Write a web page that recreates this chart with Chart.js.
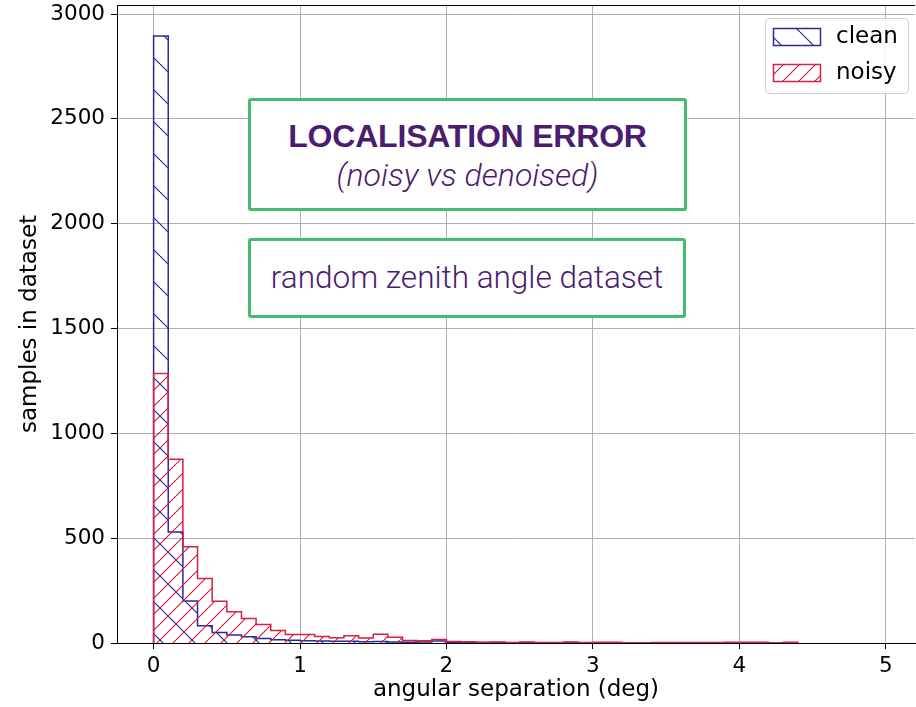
<!DOCTYPE html>
<html>
<head>
<meta charset="utf-8">
<script src="https://cdn.jsdelivr.net/npm/chart.js@4/dist/chart.umd.min.js"></script>
<style>
  body { margin: 0; background: #fff; }
  #wrap { position: relative; width: 916px; height: 707px; }
  .note {
    position: absolute; box-sizing: border-box;
    border: 3px solid #45bb6e; border-radius: 3px; background: #fff;
    color: #4b1c70; text-align: center;
  }
  .note .big { font: bold 32px "Liberation Sans", Arial, sans-serif; letter-spacing: -0.2px; }
  .note .sub { font: italic 300 32px Roboto, "Open Sans", sans-serif; }
  .note .plain { font: 300 31.5px Roboto, "Open Sans", sans-serif; }
</style>
</head>
<body>
<div id="wrap">
  <canvas id="hist" width="916" height="707"></canvas>
  <div class="note" style="left:248px; top:98px; width:439px; height:113px; padding-top:17px;">
    <div class="big">LOCALISATION ERROR</div>
    <div class="sub" style="margin-top:1px;">(noisy vs denoised)</div>
  </div>
  <div class="note" style="left:248px; top:238px; width:438px; height:80px; padding-top:18px;">
    <div class="plain">random zenith angle dataset</div>
  </div>
</div>
<script>
// histogram: 0.1 deg bins from 0 to 4.4
const BIN_WIDTH = 0.1;
const cleanCounts = [
  2895, 530, 200, 82, 50, 38, 30, 22, 16, 13,
  11, 9, 8, 8, 6, 7, 5, 4, 5, 9,
  3, 3, 2, 2, 1, 2, 1, 1, 2, 1,
  1, 1, 0, 0, 1, 1, 0, 1, 0, 1,
  1, 0, 0, 0
];
const noisyCounts = [
  1285, 876, 459, 308, 199, 149, 117, 88, 60, 41,
  40, 31, 25, 34, 24, 42, 27, 12, 11, 17,
  7, 6, 4, 5, 2, 5, 2, 2, 5, 2,
  3, 3, 0, 0, 2, 2, 2, 2, 2, 4,
  3, 3, 0, 3
];
const xTicks = [0, 1, 2, 3, 4, 5];
const yTicks = [0, 500, 1000, 1500, 2000, 2500, 3000];
const seriesNames = ['clean', 'noisy'];

const CLEAN_COLOR = '#28299c';
const NOISY_COLOR = '#d91f48';

// diagonal hatch tile, dir 1 = "\" , dir -1 = "/"
function hatch(color, spacing, dir) {
  const c = document.createElement('canvas');
  c.width = spacing; c.height = spacing;
  const g = c.getContext('2d');
  g.strokeStyle = color;
  g.lineWidth = 1.2;
  for (const k of [-spacing, 0, spacing]) {
    g.beginPath();
    if (dir > 0) { g.moveTo(k, 0); g.lineTo(k + spacing, spacing); }
    else { g.moveTo(k, spacing); g.lineTo(k + spacing, 0); }
    g.stroke();
  }
  return g.createPattern(c, 'repeat');
}

// outline points for a step histogram (each bin holds its value up to the next edge)
function stepPoints(counts) {
  const pts = [{ x: 0, y: 0 }];
  counts.forEach((v, i) => pts.push({ x: i * BIN_WIDTH, y: v }));
  pts.push({ x: counts.length * BIN_WIDTH, y: 0 });
  return pts;
}

const ctx = document.getElementById('hist').getContext('2d');
const cleanHatch = hatch(CLEAN_COLOR, 32, 1);
const noisyHatch = hatch(NOISY_COLOR, 16, -1);

const framePlugin = {
  id: 'frame',
  afterDraw(chart) {
    const { ctx, chartArea: a } = chart;
    ctx.save();
    ctx.strokeStyle = '#000';
    ctx.lineWidth = 1;
    ctx.beginPath();
    ctx.moveTo(a.left, a.top + 0.5);
    ctx.lineTo(a.right, a.top + 0.5);
    ctx.stroke();

    // legend box, top right
    const bx = 765, by = 18, bw = 143, bh = 75;
    ctx.fillStyle = 'rgba(255,255,255,0.85)';
    ctx.strokeStyle = '#d0d0d0';
    ctx.lineWidth = 1;
    ctx.beginPath();
    ctx.roundRect(bx + 0.5, by + 0.5, bw, bh, 4);
    ctx.fill();
    ctx.stroke();
    const entries = [
      { label: seriesNames[0], color: CLEAN_COLOR, fill: cleanHatch, y: 28 },
      { label: seriesNames[1], color: NOISY_COLOR, fill: noisyHatch, y: 64 }
    ];
    ctx.font = '23px "DejaVu Sans"';
    ctx.textBaseline = 'middle';
    entries.forEach(e => {
      ctx.fillStyle = e.fill;
      ctx.fillRect(773, e.y, 47, 17);
      ctx.strokeStyle = e.color;
      ctx.lineWidth = 1.5;
      ctx.strokeRect(773.5, e.y + 0.5, 47, 17);
      ctx.fillStyle = '#000';
      ctx.fillText(e.label, 836, e.y + 9);
    });
    ctx.restore();
  }
};

new Chart(ctx, {
  type: 'line',
  data: {
    datasets: [
      {
        label: seriesNames[0],
        data: stepPoints(cleanCounts),
        borderColor: CLEAN_COLOR,
        backgroundColor: cleanHatch,
        borderWidth: 1.5,
        stepped: 'before',
        fill: 'origin',
        pointRadius: 0,
        order: 2
      },
      {
        label: seriesNames[1],
        data: stepPoints(noisyCounts),
        borderColor: NOISY_COLOR,
        backgroundColor: noisyHatch,
        borderWidth: 1.5,
        stepped: 'before',
        fill: 'origin',
        pointRadius: 0,
        order: 1
      }
    ]
  },
  options: {
    responsive: false,
    animation: false,
    layout: { padding: { top: 5, right: 1, left: 0, bottom: 0 } },
    plugins: {
      legend: { display: false },
      tooltip: { enabled: false }
    },
    scales: {
      x: {
        type: 'linear',
        min: -0.25,
        max: 5.2,
        afterFit: s => { s.height = 64; s.paddingLeft = 0; s.paddingRight = 0; },
        afterBuildTicks: s => { s.ticks = xTicks.map(v => ({ value: v })); },
        ticks: {
          includeBounds: false,
          color: '#000',
          padding: 5,
          maxRotation: 0,
          callback: v => String(v),
          font: { family: 'DejaVu Sans', size: 21.5 }
        },
        grid: { color: '#b0b0b0', lineWidth: 1, tickLength: 6, tickColor: '#000' },
        border: { color: '#000', width: 1 },
        title: {
          display: true,
          text: 'angular separation (deg)',
          color: '#000',
          padding: { top: 0, bottom: 3 },
          font: { family: 'DejaVu Sans', size: 23 }
        }
      },
      y: {
        min: 0,
        max: 3043,
        afterFit: s => { s.width = 117; s.paddingTop = 0; s.paddingBottom = 0; },
        afterBuildTicks: s => { s.ticks = yTicks.map(v => ({ value: v })); },
        ticks: {
          includeBounds: false,
          color: '#000',
          padding: 6,
          callback: v => String(v),
          font: { family: 'DejaVu Sans', size: 21.5 }
        },
        grid: { color: '#b0b0b0', lineWidth: 1, tickLength: 6, tickColor: '#000' },
        border: { color: '#000', width: 1 },
        title: {
          display: true,
          text: 'samples in dataset',
          color: '#000',
          padding: { top: 16, bottom: 0 },
          font: { family: 'DejaVu Sans', size: 23 }
        }
      }
    }
  },
  plugins: [framePlugin]
});
</script>
</body>
</html>
